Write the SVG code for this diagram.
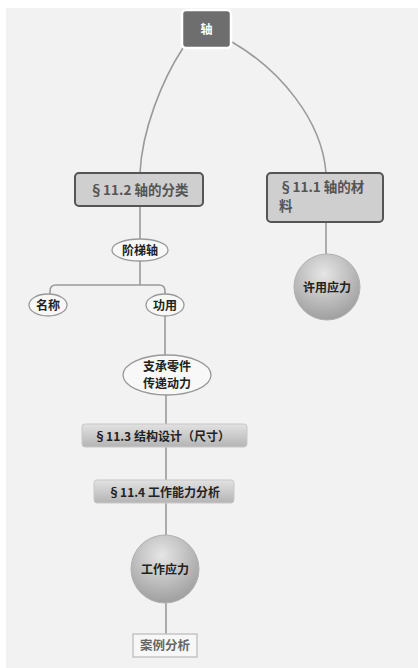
<svg xmlns="http://www.w3.org/2000/svg" width="418" height="668" viewBox="0 0 418 668">
<defs>
<linearGradient id="barG" x1="0" y1="0" x2="0" y2="1"><stop offset="0" stop-color="#e2e2e2"/><stop offset="1" stop-color="#b4b4b4"/></linearGradient>
<radialGradient id="ballG" cx="0.45" cy="0.3" r="0.75"><stop offset="0" stop-color="#e6e6e6"/><stop offset="1" stop-color="#9a9a9a"/></radialGradient>
</defs>
<style>
text{font-family:"Noto Sans CJK SC","Liberation Sans",sans-serif;font-weight:bold;text-anchor:middle}
.ln{fill:none;stroke:#9a9a9a;stroke-width:1.6}
.box{fill:#cfcfcf;stroke:#555;stroke-width:2}
.ell{fill:#f8f8f8;stroke:#999;stroke-width:1.3}
.t{fill:#222;font-size:12px}
.tg{fill:#555;font-size:13.5px}
</style>
<rect x="0" y="0" width="418" height="668" fill="#ffffff"/>
<rect x="6" y="8" width="412" height="660" fill="#f2f2f2"/>
<g id="connectors">
<path class="ln" d="M183,48 C162,80 142,130 140,173"/>
<path class="ln" d="M232,42 C280,70 322,120 326,173"/>
<path class="ln" d="M140,206 V239"/>
<path class="ln" d="M140,261 V285 M140,285 H56 Q50,285 50,291 V294 M140,285 H159 Q165,285 165,291 V294"/>
<path class="ln" d="M165,316 V355"/>
<path class="ln" d="M166,395 V424 M166,447 V480 M166,503 V535 M166,603 V634"/>
<path class="ln" d="M326,222 V254"/>
</g>
<g id="root">
<rect x="182" y="10" width="49" height="38" rx="4" fill="#6e6e6e" stroke="#ffffff" stroke-width="2.5"/>
<text x="206.5" y="34" fill="#ffffff" font-size="12">轴</text>
</g>
<g id="n112">
<rect class="box" x="75" y="173" width="128" height="33" rx="4"/>
<text class="tg" x="139" y="195">§11.2 轴的分类</text>
</g>
<g id="n111">
<rect class="box" x="267" y="173" width="116" height="49" rx="4"/>
<text class="tg" x="279" y="192" style="text-anchor:start">§11.1 轴的材</text>
<text class="tg" x="279" y="211" style="text-anchor:start">料</text>
</g>
<g id="jietizhou">
<ellipse class="ell" cx="140" cy="250" rx="28" ry="11"/>
<text class="t" x="140" y="254.5" font-size="12.5">阶梯轴</text>
</g>
<g id="mingcheng">
<ellipse class="ell" cx="48" cy="305" rx="19" ry="11"/>
<text class="t" x="48" y="309.5">名称</text>
</g>
<g id="gongyong">
<ellipse class="ell" cx="165" cy="305" rx="19" ry="11"/>
<text class="t" x="165" y="309.5">功用</text>
</g>
<g id="zhicheng">
<ellipse class="ell" cx="167" cy="375" rx="44" ry="20"/>
<text class="t" x="167" y="371" font-size="12.5">支承零件</text>
<text class="t" x="167" y="387.5" font-size="12.5">传递动力</text>
</g>
<g id="n113">
<rect x="82" y="424" width="165" height="23" rx="3" fill="url(#barG)" stroke="#c8c8c8" stroke-width="1"/>
<text class="t" x="162" y="440.5" font-size="13">§11.3 结构设计（尺寸）</text>
</g>
<g id="n114">
<rect x="94" y="480" width="140" height="23" rx="3" fill="url(#barG)" stroke="#c8c8c8" stroke-width="1"/>
<text class="t" x="164" y="496.5" font-size="13">§11.4 工作能力分析</text>
</g>
<g id="gongzuo">
<circle cx="165" cy="569" r="34" fill="url(#ballG)" stroke="#b0b0b0" stroke-width="1"/>
<text class="t" x="165" y="573.5" font-size="12.5">工作应力</text>
</g>
<g id="anli">
<rect x="133" y="634" width="64" height="23" fill="#f7f7f7" stroke="#bdbdbd" stroke-width="1.3"/>
<text x="165" y="650" fill="#666" font-size="12.5">案例分析</text>
</g>
<g id="xuyong">
<circle cx="327" cy="287" r="33" fill="url(#ballG)" stroke="#b0b0b0" stroke-width="1"/>
<text class="t" x="327" y="291.5" font-size="12.5">许用应力</text>
</g>
</svg>
